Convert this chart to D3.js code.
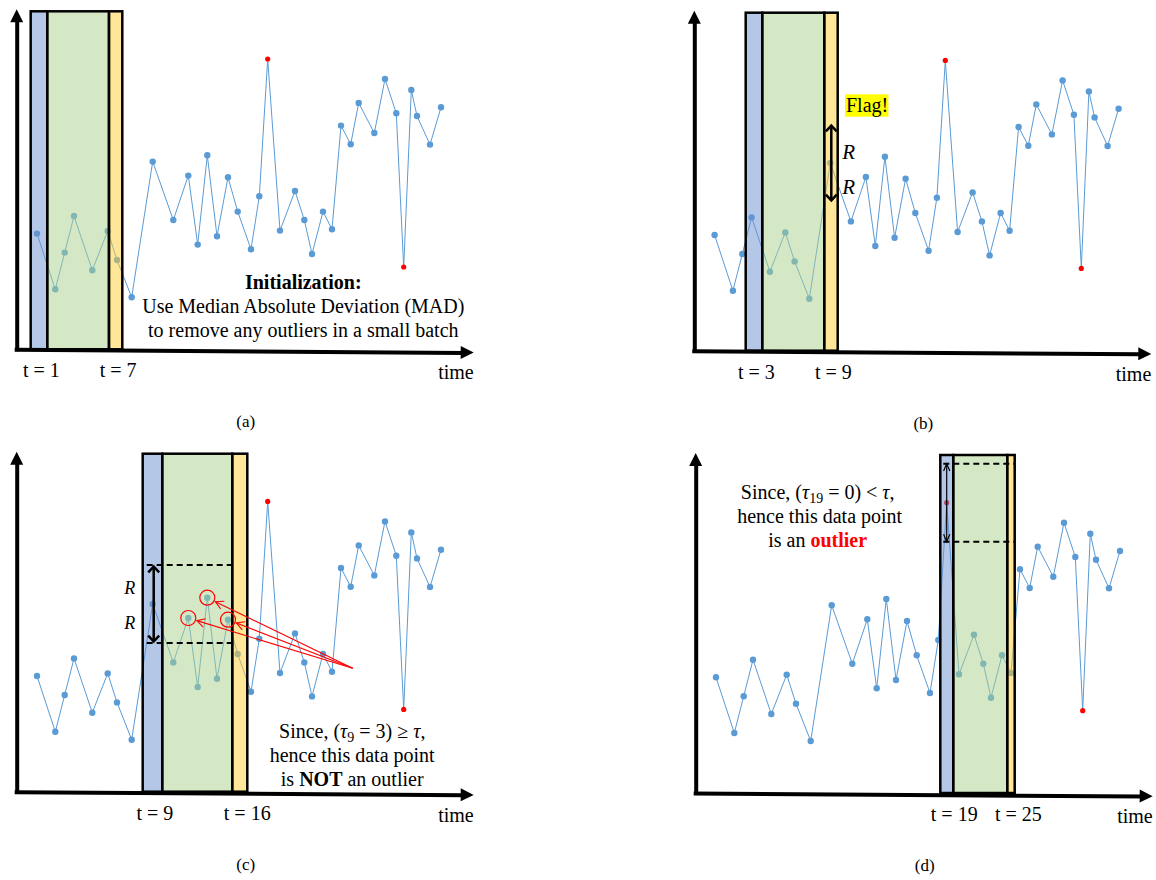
<!DOCTYPE html>
<html>
<head>
<meta charset="utf-8">
<script src="https://cdn.jsdelivr.net/npm/d3@7"></script>
<style>
  body { margin: 0; background: #ffffff; }
  text, tspan { font-family: "Liberation Serif", "Times New Roman", Times, serif !important; }
</style>
</head>
<body>
<svg id="fig" width="1156" height="880" font-family="Liberation Serif, Times New Roman, serif"></svg>
<script>
// ---- series (time stamps are irregular, values in arbitrary units) ----
const timeIndex = d3.range(1, 37);
const times = [20.3, 38.6, 48.0, 57.3, 75.6, 91.0, 100.3, 115.0, 136.0, 156.6, 171.6, 181.0,
               190.6, 200.3, 211.3, 221.0, 234.3, 242.6, 251.0, 263.3, 278.3, 287.6, 295.3, 306.3,
               315.3, 324.3, 334.0, 342.0, 357.6, 368.3, 379.6, 387.0, 394.6, 400.3, 413.3, 424.3];
const values = [115.7, 60.0, 96.7, 133.3, 79.0, 118.3, 89.3, 52.0, 187.7, 129.3, 173.7, 104.7,
                194.0, 113.0, 172.0, 137.7, 100.0, 153.0, 290.3, 118.7, 158.3, 129.3, 95.3, 137.7,
                120.0, 223.7, 205.0, 246.3, 216.3, 270.3, 236.0, 82.3, 259.3, 233.3, 204.7, 242.0];
const outlierTimes = [19, 32];
const rangeR = 39;                 // half width R of the acceptance band

// sliding windows: [blue start, blue end / green start, green end / yellow start, yellow end]
const windowEdges = {
  a: [14.0, 30.6, 92.3, 105.6],
  b: [51.4, 68.0, 130.0, 143.4],
  c: [126.0, 145.6, 215.6, 230.6],
  d: [244.6, 257.6, 311.6, 319.0]
};
const windowLabels = {
  a: ["t = 1", "t = 7"],
  b: ["t = 3", "t = 9"],
  c: ["t = 9", "t = 16"],
  d: ["t = 19", "t = 25"]
};
const neighbourTimes = [11, 13, 15];   // neighbours counted inside the band in (c)

const data = timeIndex.map((t, i) => ({ t, time: times[i], value: values[i], outlier: outlierTimes.includes(t) }));

// ---- layout ----
const panels = [
  { key: "a", ox: 16.7,  oy: 349.3, caption: "(a)" },
  { key: "b", ox: 694.3, oy: 350.7, caption: "(b)" },
  { key: "c", ox: 16.7,  oy: 791.7, caption: "(c)" },
  { key: "d", ox: 695.7, oy: 793.0, caption: "(d)" }
];
const AX_W = 457, AX_H = 340, WIN_TOP = 338;
const FONT = "Liberation Serif, Times New Roman, serif";
const COLORS = { point: "#5B9BD5", red: "#FF0000", blue: "#698FCF", green: "#A9D18E", yellow: "#FFCD33" };

const svg = d3.select("#fig");

function label(g, x, y, str, size) {
  return g.append("text").attr("x", x).attr("y", y)
    .attr("font-family", FONT).attr("font-size", size).text(str);
}

function chevron(g, tip, dirAngle, len, spread, color, width) {
  // open arrow head pointing along dirAngle (radians) with apex at tip
  const a1 = dirAngle + Math.PI - spread, a2 = dirAngle + Math.PI + spread;
  g.append("path")
    .attr("d", `M${tip[0] + len * Math.cos(a1)},${tip[1] + len * Math.sin(a1)} L${tip[0]},${tip[1]} L${tip[0] + len * Math.cos(a2)},${tip[1] + len * Math.sin(a2)}`)
    .attr("fill", "none").attr("stroke", color).attr("stroke-width", width)
    .attr("stroke-linejoin", "miter").attr("stroke-linecap", "butt");
}

function doubleArrow(g, x, y1, y2, width, len, spread) {
  g.append("line").attr("x1", x).attr("x2", x).attr("y1", y1).attr("y2", y2)
    .attr("stroke", "#000").attr("stroke-width", width);
  chevron(g, [x, y1], -Math.PI / 2, len, spread, "#000", width);
  chevron(g, [x, y2], Math.PI / 2, len, spread, "#000", width);
}

panels.forEach(p => {
  const g = svg.append("g").attr("class", "panel-" + p.key).attr("font-family", FONT);
  const x = d3.scaleLinear().domain([0, AX_W]).range([p.ox, p.ox + AX_W]);
  const y = d3.scaleLinear().domain([0, AX_H]).range([p.oy, p.oy - AX_H]);
  const win = windowEdges[p.key];

  // series line and points
  const line = d3.line().x(d => x(d.time)).y(d => y(d.value));
  g.append("path").datum(data).attr("d", line)
    .attr("fill", "none").attr("stroke", COLORS.point).attr("stroke-width", 1);
  g.selectAll("circle.pt").data(data).join("circle").attr("class", "pt")
    .attr("cx", d => x(d.time)).attr("cy", d => y(d.value))
    .attr("r", d => d.outlier ? 2.6 : 3.2)
    .attr("fill", d => d.outlier ? COLORS.red : COLORS.point);

  // sliding window: translucent strips drawn over the series
  const strips = [
    [win[0], win[1], COLORS.blue],
    [win[1], win[2], COLORS.green],
    [win[2], win[3], COLORS.yellow]
  ];
  g.selectAll("rect.win").data(strips).join("rect").attr("class", "win")
    .attr("x", d => x(d[0])).attr("width", d => x(d[1]) - x(d[0]))
    .attr("y", y(WIN_TOP)).attr("height", y(0) - y(WIN_TOP))
    .attr("fill", d => d[2]).attr("fill-opacity", 0.5)
    .attr("stroke", "#000").attr("stroke-width", 2.5);

  // axes: thick lines ending in filled arrow heads
  const xAxis = d3.axisBottom(x).tickValues([]).tickSizeOuter(0);
  const axG = g.append("g").attr("transform", `rotate(0.4, ${p.ox}, ${p.oy})`);
  axG.append("g").attr("transform", `translate(0,${p.oy})`).call(xAxis)
    .select(".domain").attr("stroke", "#000").attr("stroke-width", 4)
    .attr("d", `M${p.ox - 2},0.5H${p.ox + AX_W - 10}`);
  axG.append("path")
    .attr("d", `M${p.ox + AX_W},${p.oy} L${p.ox + AX_W - 13},${p.oy - 6.5} L${p.ox + AX_W - 13},${p.oy + 6.5} Z`)
    .attr("fill", "#000");
  const yAxis = d3.axisLeft(y).tickValues([]).tickSizeOuter(0);
  g.append("g").attr("transform", `translate(${p.ox},0)`).call(yAxis)
    .select(".domain").attr("stroke", "#000").attr("stroke-width", 4)
    .attr("d", `M0.5,${p.oy + 2}V${p.oy - AX_H + 10}`);
  g.append("path")
    .attr("d", `M${p.ox},${p.oy - AX_H} L${p.ox - 6.5},${p.oy - AX_H + 13} L${p.ox + 6.5},${p.oy - AX_H + 13} Z`)
    .attr("fill", "#000");

  // window labels and axis name
  const labs = windowLabels[p.key];
  label(g, x((win[0] + win[1]) / 2) - 16, p.oy + 28, labs[0], 20);
  label(g, x((win[2] + win[3]) / 2) - 16, p.oy + 28, labs[1], 20);
  label(g, p.ox + AX_W, p.oy + 30, "time", 20).attr("text-anchor", "end");

  // caption
  label(g, p.ox + 229, p.oy + 78, p.caption, 17).attr("text-anchor", "middle");

  const ann = g.append("g");
  if (p.key === "a") {
    const cx = p.ox + 286.6;
    label(ann, cx, p.oy - 60.3, "Initialization:", 20).attr("text-anchor", "middle").attr("font-weight", "bold");
    label(ann, cx, p.oy - 36.3, "Use Median Absolute Deviation (MAD)", 20).attr("text-anchor", "middle");
    label(ann, cx, p.oy - 12.3, "to remove any outliers in a small batch", 20).attr("text-anchor", "middle");
  }

  if (p.key === "b") {
    const d9 = data[8];
    const px = x(d9.time) + 1;
    doubleArrow(ann, px, y(d9.value + rangeR * 0.96), y(d9.value - rangeR * 0.96), 2.5, 8, 0.75);
    label(ann, px + 11, y(d9.value + rangeR * 0.3), "R", 21).attr("dy", "0.35em").attr("font-style", "italic");
    label(ann, px + 11, y(d9.value - rangeR * 0.6), "R", 21).attr("dy", "0.35em").attr("font-style", "italic");
    // flag label on a yellow highlight
    const fx = p.ox + 150.7, fy = p.oy - 256.4;
    ann.append("rect").attr("x", fx).attr("y", fy).attr("width", 43.4).attr("height", 22.4).attr("fill", "#FFFF00");
    label(ann, fx + 1, fy + 18, "Flag!", 20);
  }

  if (p.key === "c") {
    const d9 = data[8];
    const px = x(d9.time) + 1;
    [d9.value + rangeR, d9.value - rangeR].forEach(v => {
      ann.append("line").attr("x1", x(win[0]) + 4).attr("x2", x(win[2]))
        .attr("y1", y(v)).attr("y2", y(v))
        .attr("stroke", "#000").attr("stroke-width", 2).attr("stroke-dasharray", "6,4");
    });
    doubleArrow(ann, px, y(d9.value + rangeR - 1.5), y(d9.value - rangeR + 1.5), 2.5, 8, 0.75);
    label(ann, px - 24, y(d9.value + rangeR * 0.42), "R", 18).attr("dy", "0.35em")
      .attr("text-anchor", "middle").attr("font-style", "italic");
    label(ann, px - 24, y(d9.value - rangeR * 0.49), "R", 18).attr("dy", "0.35em")
      .attr("text-anchor", "middle").attr("font-style", "italic");

    // neighbours within the band, circled and pointed at
    const src = [x(336), y(123.4)];
    neighbourTimes.forEach(t => {
      const d = data[t - 1];
      const c = [x(d.time), y(d.value)];
      ann.append("circle").attr("cx", c[0]).attr("cy", c[1]).attr("r", 7.5)
        .attr("fill", "none").attr("stroke", COLORS.red).attr("stroke-width", 1.2);
      const ang = Math.atan2(src[1] - c[1], src[0] - c[0]);
      const tip = [c[0] + 9 * Math.cos(ang), c[1] + 9 * Math.sin(ang)];
      ann.append("line").attr("x1", src[0]).attr("y1", src[1]).attr("x2", tip[0]).attr("y2", tip[1])
        .attr("stroke", COLORS.red).attr("stroke-width", 1.1);
      chevron(ann, tip, ang + Math.PI, 9, 0.5, COLORS.red, 1.1);
    });

    const cx = p.ox + 335.5;
    const t1 = label(ann, cx, p.oy - 54, null, 20).attr("text-anchor", "middle");
    t1.append("tspan").text("Since, (");
    t1.append("tspan").attr("font-style", "italic").text("τ");
    t1.append("tspan").attr("font-size", 14).attr("dy", 4).text("9");
    t1.append("tspan").attr("dy", -4).text(" = 3) ≥ ");
    t1.append("tspan").attr("font-style", "italic").text("τ");
    t1.append("tspan").text(",");
    label(ann, cx, p.oy - 30, "hence this data point", 20).attr("text-anchor", "middle");
    const t3 = label(ann, cx, p.oy - 5.7, null, 20).attr("text-anchor", "middle");
    t3.append("tspan").text("is ");
    t3.append("tspan").attr("font-weight", "bold").text("NOT");
    t3.append("tspan").text(" an outlier");
  }

  if (p.key === "d") {
    const d19 = data[18];
    const px = x(d19.time);
    [d19.value + rangeR, d19.value - rangeR].forEach(v => {
      ann.append("line").attr("x1", x(win[0]) + 3).attr("x2", x(win[3]))
        .attr("y1", y(v)).attr("y2", y(v))
        .attr("stroke", "#000").attr("stroke-width", 2).attr("stroke-dasharray", "6,4");
    });
    doubleArrow(ann, px, y(d19.value + rangeR), y(d19.value - rangeR), 1.2, 8, 0.4);

    const cx = p.ox + 122;
    const t1 = label(ann, cx, p.oy - 293.7, null, 20).attr("text-anchor", "middle");
    t1.append("tspan").text("Since, (");
    t1.append("tspan").attr("font-style", "italic").text("τ");
    t1.append("tspan").attr("font-size", 14).attr("dy", 4).text("19");
    t1.append("tspan").attr("dy", -4).text(" = 0) < ");
    t1.append("tspan").attr("font-style", "italic").text("τ");
    t1.append("tspan").text(",");
    label(ann, cx + 2, p.oy - 269.7, "hence this data point", 20).attr("text-anchor", "middle");
    const t3 = label(ann, cx, p.oy - 245.7, null, 20).attr("text-anchor", "middle");
    t3.append("tspan").text("is an ");
    t3.append("tspan").attr("font-weight", "bold").attr("fill", COLORS.red).text("outlier");
  }
});
</script>
</body>
</html>
